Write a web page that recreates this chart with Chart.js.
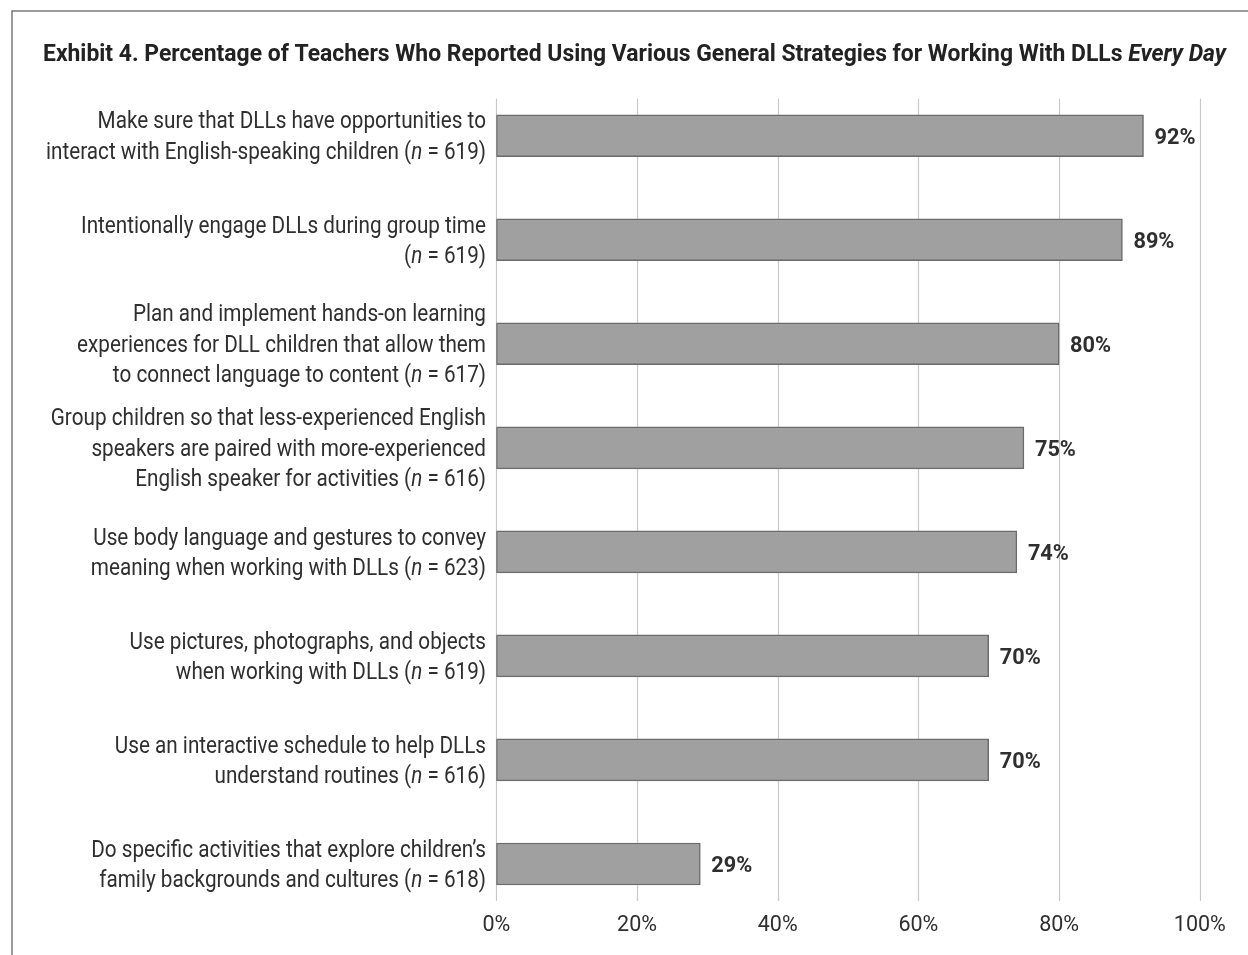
<!DOCTYPE html>
<html>
<head>
<meta charset="utf-8">
<script src="https://cdn.jsdelivr.net/npm/chart.js@4/dist/chart.umd.min.js"></script>
<style>
  html, body { margin: 0; padding: 0; background: #ffffff; }
  #wrap { position: relative; width: 1248px; height: 955px; }
  canvas { display: block; }
</style>
</head>
<body>
<div id="wrap"><canvas id="chart" width="1248" height="955"></canvas></div>
<script>
// Strategy labels (one entry per bar, split into display lines)
const categories = [
  ["Make sure that DLLs have opportunities to", "interact with English-speaking children (n = 619)"],
  ["Intentionally engage DLLs during group time", "(n = 619)"],
  ["Plan and implement hands-on learning", "experiences for DLL children that allow them", "to connect language to content (n = 617)"],
  ["Group children so that less-experienced English", "speakers are paired with more-experienced", "English speaker for activities (n = 616)"],
  ["Use body language and gestures to convey", "meaning when working with DLLs (n = 623)"],
  ["Use pictures, photographs, and objects", "when working with DLLs (n = 619)"],
  ["Use an interactive schedule to help DLLs", "understand routines (n = 616)"],
  ["Do specific activities that explore children\u2019s", "family backgrounds and cultures (n = 618)"]
];

// Percentage of teachers using each strategy every day
const percentages = [92, 89, 80, 75, 74, 70, 70, 29];

// X-axis tick values
const tickValues = [0, 20, 40, 60, 80, 100];

const titleMain = "Exhibit 4. Percentage of Teachers Who Reported Using Various General Strategies for Working With DLLs ";
const titleItalic = "Every Day";

const FAMILY = 'Roboto, "DejaVu Sans Condensed", sans-serif';
const TEXT = "#2f2f2f";

// Split a label line into font runs, italicising the sample-size "n"
function labelParts(line, size) {
  const regular = size + "px " + FAMILY;
  const italic = "italic " + size + "px " + FAMILY;
  const idx = line.indexOf("(n =");
  if (idx < 0) return [{ t: line, f: regular }];
  return [
    { t: line.slice(0, idx + 1), f: regular },
    { t: "n", f: italic },
    { t: line.slice(idx + 2), f: regular }
  ];
}

function partsWidth(ctx, parts) {
  let total = 0;
  parts.forEach(p => { ctx.font = p.f; p.w = ctx.measureText(p.t).width; total += p.w; });
  return total;
}

// Draw font runs anchored at x with a horizontal condensing factor sx
function drawParts(ctx, parts, x, y, align, sx) {
  const w = partsWidth(ctx, parts) * sx;
  let start = x;
  if (align === "right") start = x - w;
  else if (align === "center") start = x - w / 2;
  ctx.save();
  ctx.translate(start, y);
  ctx.scale(sx, 1);
  ctx.textAlign = "left";
  let cx = 0;
  parts.forEach(p => { ctx.font = p.f; ctx.fillText(p.t, cx, 0); cx += p.w; });
  ctx.restore();
}

const decorations = {
  id: "decorations",
  beforeDatasetsDraw(chart) {
    const { ctx, chartArea, scales } = chart;
    const xs = scales.x;
    ctx.save();
    // frame (top and left rules)
    ctx.strokeStyle = "#7a7a7a";
    ctx.lineWidth = 1.5;
    ctx.beginPath();
    ctx.moveTo(12, 955);
    ctx.lineTo(12, 11);
    ctx.lineTo(1248, 11);
    ctx.stroke();

    // vertical grid lines
    ctx.strokeStyle = "#c9c9c9";
    ctx.lineWidth = 1.2;
    tickValues.forEach(v => {
      const x = Math.round(xs.getPixelForValue(v)) + 0.5;
      ctx.beginPath();
      ctx.moveTo(x, chartArea.top + 15);
      ctx.lineTo(x, chartArea.bottom - 15);
      ctx.stroke();
    });
    ctx.restore();
  },
  afterDatasetsDraw(chart) {
    const { ctx, chartArea, scales } = chart;
    const xs = scales.x, ys = scales.y;
    const meta = chart.getDatasetMeta(0);
    ctx.save();
    ctx.textBaseline = "alphabetic";

    // title
    ctx.fillStyle = "#222222";
    const titleParts = [
      { t: titleMain, f: "bold 24px " + FAMILY },
      { t: titleItalic, f: "italic bold 24px " + FAMILY }
    ];
    const titleSx = 1183 / partsWidth(ctx, titleParts);
    drawParts(ctx, titleParts, 43, 61, "left", titleSx);

    // category labels
    ctx.fillStyle = TEXT;
    const lh = 30.5;
    const labelSx = 440 / partsWidth(ctx, labelParts(categories[0][1], 24));
    categories.forEach((lines, i) => {
      const yc = ys.getPixelForValue(i);
      const y0 = yc - (lines.length - 1) * lh / 2 + 8;
      lines.forEach((ln, k) => drawParts(ctx, labelParts(ln, 24), 486, y0 + k * lh, "right", labelSx));
    });

    // value labels
    const valFont = "bold 22.5px " + FAMILY;
    const valSx = 41 / partsWidth(ctx, [{ t: "92%", f: valFont }]);
    meta.data.forEach((bar, i) => {
      drawParts(ctx, [{ t: percentages[i] + "%", f: valFont }], bar.x + 11, bar.y + 8, "left", valSx);
    });

    // x tick labels
    const tickFont = "22.5px " + FAMILY;
    const tickSx = 52 / partsWidth(ctx, [{ t: "100%", f: tickFont }]);
    tickValues.forEach(v => {
      drawParts(ctx, [{ t: v + "%", f: tickFont }], xs.getPixelForValue(v), chartArea.bottom + 15, "center", tickSx);
    });
    ctx.restore();
  }
};

new Chart(document.getElementById("chart"), {
  type: "bar",
  data: {
    labels: categories.map(l => l.join(" ")),
    datasets: [{
      data: percentages,
      backgroundColor: "#a0a0a0",
      borderColor: "#6b6b6b",
      borderWidth: 1.5,
      borderSkipped: false,
      barThickness: 42
    }]
  },
  options: {
    indexAxis: "y",
    responsive: false,
    animation: false,
    events: [],
    layout: { padding: { left: 496.3, right: 48.2, top: 83.7, bottom: 39 } },
    plugins: { legend: { display: false }, tooltip: { enabled: false }, title: { display: false } },
    scales: {
      x: { min: 0, max: 100, display: false, ticks: { stepSize: 20 } },
      y: { display: false, offset: true }
    }
  },
  plugins: [decorations]
});
</script>
</body>
</html>
